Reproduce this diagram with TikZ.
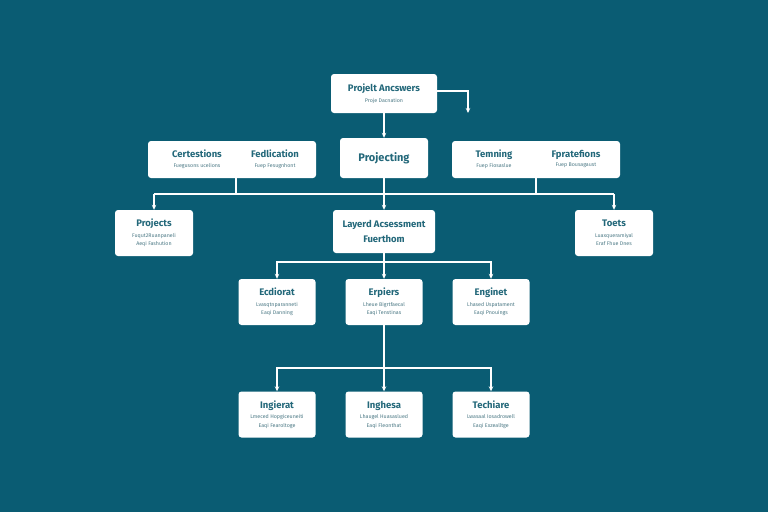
\documentclass[tikz,border=0pt]{standalone}
\usepackage{fontspec}
\setmainfont{Fira Sans}
\usetikzlibrary{arrows.meta,positioning}

\definecolor{bgteal}{HTML}{0A5C73}
\definecolor{inkteal}{HTML}{23687A}
\definecolor{noteteal}{HTML}{4D7A86}

\newcommand{\cardtitle}[1]{{\fontsize{9.5}{11}\selectfont\bfseries #1}}
\newcommand{\cardnote}[1]{{\color{noteteal}#1}}

\tikzset{
  card/.style={fill=white, rounded corners=3pt, text=inkteal, align=center, inner sep=1pt,
    font=\fontsize{5.3}{8.5}\selectfont},
  smallcard/.style={card, minimum width=77pt, minimum height=46pt},
  widecard/.style={card, minimum width=168pt, minimum height=37pt},
  link/.style={draw=white, line width=1.1pt},
  feed/.style={link, -{Stealth[length=5pt,width=4.5pt]}}
}

\begin{document}
\begin{tikzpicture}[x=1pt,y=-1pt]
\fill[bgteal] (0,0) rectangle (768,512);
\useasboundingbox (0,0) rectangle (768,512);

% top
\node[card, minimum width=106pt, minimum height=39pt] (answers) at (384,93.5)
    {\cardtitle{Projelt Ancswers}\\[2pt]\cardnote{Proje Dacnation}};
\coordinate (answersdrop) at (468,113);

% second row
\node[widecard] (groupleft) at (232,159.5) {};
\node[card] at (197,159) {\cardtitle{Certestions}\\[1pt]\cardnote{Fuegusons ucelions}};
\node[card] at (275,159) {\cardtitle{Fedlication}\\[1pt]\cardnote{Fuep Fesugnhont}};
\node[card, minimum width=88pt, minimum height=40pt] (projecting) at (384,158)
    {\fontsize{11}{13}\selectfont\bfseries Projecting};
\node[widecard] (groupright) at (536,159.5) {};
\node[card] at (494,159) {\cardtitle{Temning}\\[1pt]\cardnote{Fuep Fiosaslue}};
\node[card] at (576,159) {\cardtitle{Fpratefions}\\[1pt]\cardnote{Fuep Bousagaust}};

% third row
\node[smallcard, minimum width=78pt] (projects) at (154,233)
    {\cardtitle{Projects}\\[2pt]\cardnote{Fuqut2Ruanpaneli}\\\cardnote{Aeqi Fashution}};
\node[card, minimum width=102pt, minimum height=43pt] (layered) at (384,231.5)
    {\cardtitle{Layerd Acsessment}\\[5pt]\cardtitle{Fuerthom}};
\node[smallcard, minimum width=78pt] (tools) at (614,233)
    {\cardtitle{Toets}\\[2pt]\cardnote{Luaxqueramiyal}\\\cardnote{Eraf Fhue Dnes}};

% fourth row
\node[smallcard] (ecdiorat) at (277,302)
    {\cardtitle{Ecdiorat}\\[2pt]\cardnote{Lvasqtnparanneti}\\\cardnote{Eaqi Danning}};
\node[smallcard] (erpiers) at (384,302)
    {\cardtitle{Erpiers}\\[2pt]\cardnote{Lheue Bigrtfaecal}\\\cardnote{Eaqi Tenstinas}};
\node[smallcard] (enginet) at (491,302)
    {\cardtitle{Enginet}\\[2pt]\cardnote{Lhased Uspatament}\\\cardnote{Eaqi Pnouings}};

% fifth row
\node[smallcard] (ingierat) at (277,414.5)
    {\cardtitle{Ingierat}\\[2pt]\cardnote{Lmeced Hopgiceuneiti}\\\cardnote{Eaqi Fearoltoge}};
\node[smallcard] (inghesa) at (384,414.5)
    {\cardtitle{Inghesa}\\[2pt]\cardnote{Lhaugel Huasaslued}\\\cardnote{Eaqi Fleonthat}};
\node[smallcard] (techiare) at (491,414.5)
    {\cardtitle{Techiare}\\[2pt]\cardnote{Lwasaal Iosadrowell}\\\cardnote{Eaqi Exzealltge}};

% bus lines
\coordinate (busone) at (384,194);
\coordinate (bustwo) at (384,262);
\coordinate (busthree) at (384,368);

\draw[feed] (answers.east |- 0,91) -| (answersdrop);
\draw[feed] (answers.south) -- (projecting.north);

\draw[link] (groupleft.south -| 236,0) |- (busone);
\draw[link] (projects.north |- busone) -- (tools.north |- busone);
\draw[link] (groupright.south) -- (groupright.south |- busone);
\draw[feed] (projects.north |- busone) -- (projects.north);
\draw[feed] (tools.north |- busone) -- (tools.north);
\draw[feed] (projecting.south) -- (layered.north);

\draw[link] (layered.south) -- (bustwo);
\draw[feed] (bustwo) -| (ecdiorat.north);
\draw[feed] (bustwo) -| (enginet.north);
\draw[feed] (bustwo) -- (erpiers.north);

\draw[link] (erpiers.south) -- (busthree);
\draw[feed] (busthree) -| (ingierat.north);
\draw[feed] (busthree) -| (techiare.north);
\draw[feed] (busthree) -- (inghesa.north);
\end{tikzpicture}
\end{document}
